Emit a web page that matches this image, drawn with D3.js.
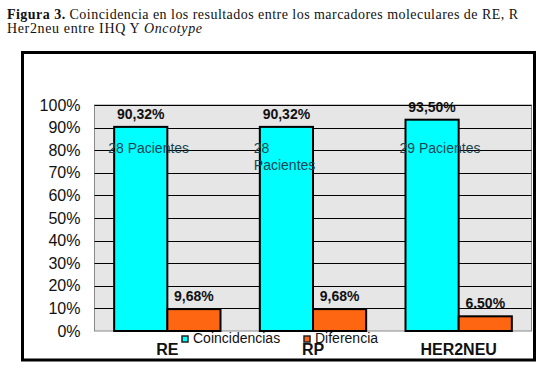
<!DOCTYPE html>
<html>
<head>
<meta charset="utf-8">
<script src="https://cdn.jsdelivr.net/npm/d3@7"></script>
<style>
  body { margin: 0; background: #fff; }
  svg { display: block; }
</style>
</head>
<body>
<svg id="chart" width="540" height="372"></svg>
<script>
const categories = ["RE", "RP", "HER2NEU"]
const seriesNames = ["Coincidencias", "Diferencia"]
const coincidencias = [90.32, 90.32, 93.5]
const diferencia = [9.68, 9.68, 6.5]
const coinLabels = ["90,32%", "90,32%", "93,50%"]
const difLabels = ["9,68%", "9,68%", "6.50%"]
const pacientes = [["28 Pacientes"], ["28", "Pacientes"], ["29 Pacientes"]]
const yTicks = [0, 10, 20, 30, 40, 50, 60, 70, 80, 90, 100]

const colors = { Coincidencias: "#00ffff", Diferencia: "#ff6611" }
const sans = "'Liberation Sans', Arial, sans-serif"

const svg = d3.select("#chart")

// caption above the chart (stretched a little, the scan has loose spacing)
const cap = svg.append("g")
    .attr("font-family", "'Liberation Serif', 'Times New Roman', serif")
    .attr("font-size", 14)
    .attr("fill", "#111")
const line1 = cap.append("text").attr("x", 7).attr("y", 19)
    .attr("textLength", 511).attr("lengthAdjust", "spacing")
line1.append("tspan").attr("font-weight", "bold").text("Figura 3.")
line1.append("tspan").text(" Coincidencia en los resultados entre los marcadores moleculares de RE, R")
const line2 = cap.append("text").attr("x", 7).attr("y", 33)
    .attr("textLength", 195).attr("lengthAdjust", "spacing")
line2.append("tspan").text("Her2neu entre IHQ Y ")
line2.append("tspan").attr("font-style", "italic").text("Oncotype")

// outer frame
svg.append("rect")
    .attr("x", 22.5).attr("y", 52.5)
    .attr("width", 512).attr("height", 307.5)
    .attr("fill", "none").attr("stroke", "#000").attr("stroke-width", 3)

const plot = { left: 94.5, right: 531.5, top: 105, bottom: 331 }

const x = d3.scaleBand()
    .domain(categories)
    .range([plot.left, plot.right])
    .paddingInner(0.27)
    .paddingOuter(0.135)

const x1 = d3.scaleBand()
    .domain(seriesNames)
    .range([0, x.bandwidth()])

const y = d3.scaleLinear()
    .domain([0, 100])
    .range([plot.bottom, plot.top])

// plot background
svg.append("rect")
    .attr("x", plot.left).attr("y", plot.top)
    .attr("width", plot.right - plot.left).attr("height", plot.bottom - plot.top)
    .attr("fill", "#e6e6e6").attr("stroke", "#8a8a8a").attr("stroke-width", 1)

// gridlines
svg.append("g")
    .selectAll("line")
    .data(yTicks.filter(d => d > 0))
    .join("line")
    .attr("x1", plot.left).attr("x2", plot.right)
    .attr("y1", d => Math.round(y(d)) + 0.5).attr("y2", d => Math.round(y(d)) + 0.5)
    .attr("stroke", "#000").attr("stroke-width", 1)

// y axis labels
const yAxis = svg.append("g")
    .attr("transform", `translate(${plot.left},0)`)
    .call(d3.axisLeft(y).tickValues(yTicks).tickFormat(d => d + "%").tickSize(0).tickPadding(14))
yAxis.select(".domain").remove()
yAxis.selectAll("text")
    .attr("font-family", sans)
    .attr("font-size", 16)
    .attr("fill", "#111")

const rows = categories.map((c, i) => ({
    cat: c,
    values: [
        { key: "Coincidencias", value: coincidencias[i], label: coinLabels[i] },
        { key: "Diferencia", value: diferencia[i], label: difLabels[i] }
    ]
}))

const groups = svg.append("g")
    .selectAll("g")
    .data(rows)
    .join("g")
    .attr("transform", d => `translate(${x(d.cat)},0)`)

groups.selectAll("rect")
    .data(d => d.values)
    .join("rect")
    .attr("x", d => x1(d.key))
    .attr("y", d => y(d.value))
    .attr("width", x1.bandwidth())
    .attr("height", d => y(0) - y(d.value))
    .attr("fill", d => colors[d.key])
    .attr("stroke", "#000")
    .attr("stroke-width", 2)

groups.selectAll("text.val")
    .data(d => d.values)
    .join("text")
    .attr("class", "val")
    .attr("x", d => x1(d.key) + x1.bandwidth() / 2)
    .attr("y", d => y(d.value) - 8)
    .attr("text-anchor", "middle")
    .attr("font-family", sans)
    .attr("font-size", 14)
    .attr("font-weight", "bold")
    .attr("fill", "#111")
    .text(d => d.label)

// patients labels inside cyan bars
groups.each(function(d, i) {
    const t = d3.select(this).append("text")
        .attr("font-family", sans)
        .attr("font-size", 14)
        .attr("fill", "#1a4555")
    pacientes[i].forEach((s, j) => {
        t.append("tspan")
            .attr("x", x1("Coincidencias") - 6)
            .attr("y", y(80) + 3 + j * 17)
            .text(s)
    })
})

// category labels
svg.append("g")
    .selectAll("text")
    .data(categories)
    .join("text")
    .attr("x", d => x(d) + x.bandwidth() / 2)
    .attr("y", 355)
    .attr("text-anchor", "middle")
    .attr("font-family", sans)
    .attr("font-size", 16)
    .attr("font-weight", "bold")
    .attr("fill", "#111")
    .text(d => d)

// legend
const legendX = [182, 304]
const legend = svg.append("g")
    .selectAll("g")
    .data(seriesNames)
    .join("g")
    .attr("transform", (d, i) => `translate(${legendX[i]},336)`)
legend.append("rect")
    .attr("width", 6).attr("height", 6)
    .attr("fill", d => colors[d])
    .attr("stroke", "#222").attr("stroke-width", 1.5)
legend.append("text")
    .attr("x", 11).attr("y", 7)
    .attr("font-family", sans)
    .attr("font-size", 14)
    .attr("fill", "#111")
    .text(d => d)
</script>
</body>
</html>
